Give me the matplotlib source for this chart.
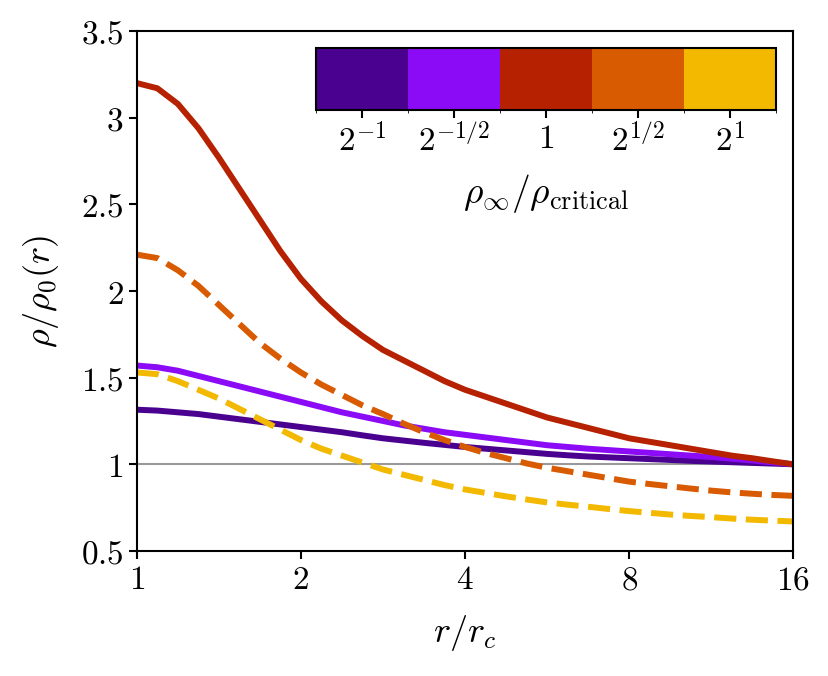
import numpy as np
import matplotlib
matplotlib.use("Agg")
import matplotlib.pyplot as plt
from matplotlib.colors import ListedColormap, BoundaryNorm
from matplotlib.cm import ScalarMappable

plt.rcParams['mathtext.fontset'] = 'cm'
plt.rcParams['font.family'] = 'serif'
plt.rcParams['font.serif'] = ['DejaVu Serif']

# sample radii (r / r_c), read at eighth-octave steps
r = [1.0, 1.0905, 1.1892, 1.2968, 1.4142, 1.5422, 1.6818, 1.8340,
     2.0, 2.1810, 2.3784, 2.5937, 2.8284, 3.0844, 3.3636, 3.6680,
     4.0, 4.3620, 4.7568, 5.1874, 5.6569, 6.1688, 6.7272, 7.3360,
     8.0, 8.7241, 9.5137, 10.375, 11.314, 12.338, 13.454, 14.672, 16.0]

# rho / rho_0(r) for each rho_inf / rho_critical
dens_m1 = [1.315, 1.31, 1.30, 1.29, 1.275, 1.26, 1.245, 1.23,
           1.215, 1.20, 1.185, 1.167, 1.15, 1.137, 1.124, 1.112,
           1.10, 1.09, 1.08, 1.07, 1.06, 1.052, 1.045, 1.04,
           1.035, 1.03, 1.025, 1.02, 1.016, 1.012, 1.008, 1.004, 1.0]
dens_mh = [1.57, 1.56, 1.54, 1.51, 1.48, 1.45, 1.42, 1.39,
           1.36, 1.33, 1.30, 1.275, 1.25, 1.225, 1.205, 1.185,
           1.17, 1.155, 1.14, 1.125, 1.11, 1.10, 1.09, 1.082,
           1.074, 1.066, 1.058, 1.05, 1.042, 1.032, 1.022, 1.011, 1.0]
dens_0 = [3.20, 3.17, 3.08, 2.94, 2.77, 2.59, 2.41, 2.23,
          2.07, 1.94, 1.83, 1.74, 1.66, 1.60, 1.54, 1.48,
          1.43, 1.39, 1.35, 1.31, 1.27, 1.24, 1.21, 1.18,
          1.15, 1.13, 1.11, 1.09, 1.07, 1.05, 1.035, 1.017, 1.0]
dens_ph = [2.21, 2.19, 2.12, 2.03, 1.92, 1.81, 1.70, 1.61,
           1.53, 1.46, 1.40, 1.34, 1.29, 1.235, 1.185, 1.14,
           1.10, 1.065, 1.035, 1.005, 0.98, 0.96, 0.94, 0.92,
           0.90, 0.886, 0.873, 0.86, 0.848, 0.838, 0.83, 0.823, 0.818]
dens_p1 = [1.53, 1.52, 1.48, 1.43, 1.38, 1.32, 1.26, 1.20,
           1.14, 1.09, 1.05, 1.01, 0.97, 0.94, 0.91, 0.88,
           0.855, 0.835, 0.815, 0.797, 0.78, 0.767, 0.755, 0.742,
           0.73, 0.72, 0.71, 0.702, 0.695, 0.687, 0.68, 0.675, 0.67]

colors = ['#4b0190', '#8b0bf6', '#b52101', '#d85a01', '#f2b900']
cb_labels = [r'$2^{-1}$', r'$2^{-1/2}$', r'$1$', r'$2^{1/2}$', r'$2^{1}$']

fig = plt.figure(figsize=(8.29, 6.76), dpi=100)
ax = fig.add_axes([0.165, 0.185, 0.792, 0.769])

ax.axhline(1.0, color='#999999', lw=1.5, zorder=1)
series = [(dens_m1, '-'), (dens_mh, '-'), (dens_0, '-'), (dens_ph, '--'), (dens_p1, '--')]
for (d, ls), c in zip(series, colors):
    ax.plot(r, d, ls, color=c, lw=4.3, zorder=2)

ax.set_xscale('log', base=2)
ax.set_xlim(1, 16)
ax.set_ylim(0.5, 3.5)
ax.set_xticks([1, 2, 4, 8, 16])
ax.set_xticklabels([r'$1$', r'$2$', r'$4$', r'$8$', r'$16$'])
ax.xaxis.set_minor_locator(matplotlib.ticker.NullLocator())
yt = [0.5, 1, 1.5, 2, 2.5, 3, 3.5]
ax.set_yticks(yt)
ax.set_yticklabels([r'$0.5$', r'$1$', r'$1.5$', r'$2$', r'$2.5$', r'$3$', r'$3.5$'])
ax.tick_params(labelsize=24, width=1.5, length=6)
for s in ax.spines.values():
    s.set_linewidth(1.5)
ax.set_xlabel(r'$r/r_c$', fontsize=26, labelpad=12)
ax.set_ylabel(r'$\rho/\rho_0(r)$', fontsize=26, labelpad=14)

# discrete colour bar inset
cax = ax.inset_axes([0.273, 0.848, 0.701, 0.119])
cmap = ListedColormap(colors)
norm = BoundaryNorm(np.arange(6) - 0.5, cmap.N)
sm = ScalarMappable(norm=norm, cmap=cmap)
cb = fig.colorbar(sm, cax=cax, orientation='horizontal', ticks=range(5))
cb.set_ticklabels(cb_labels)
cb.outline.set_linewidth(1.5)
cax.tick_params(labelsize=24, width=1.5, length=6)
cb.set_label(r'$\rho_\infty/\rho_{\rm critical}$', fontsize=27, labelpad=10)

fig.savefig('out.png', dpi=100)
